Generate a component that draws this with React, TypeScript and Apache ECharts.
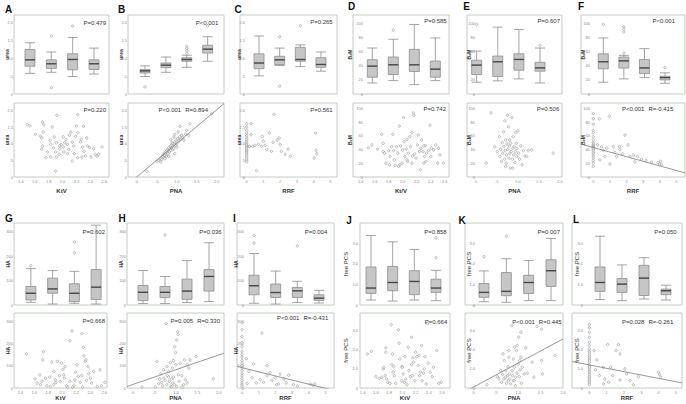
import React, { useEffect, useRef } from "react";
import * as echarts from "echarts";

// ---------- tick values ----------
const ktvTicks = [1.4, 1.6, 1.8, 2.0, 2.2, 2.4, 2.6];
const pnaTicks = [0, 0.5, 1.0, 1.5, 2.0];
const rrfTicks = [0, 1, 2, 3, 4, 5];
const ureaTicks = [0, 0.5, 1.0, 1.5, 2.0];
const b2mTicks = [0, 20, 40, 60, 80, 100];
const haTicks = [0, 100, 200, 300];
const pcsTicks = [0, 1, 2, 3];

// ---------- texts ----------
const panelLetters = ["A", "B", "C", "D", "E", "F", "G", "H", "I", "J", "K", "L"];
const yNames = ["urea", "urea", "urea", "B\u2082M", "B\u2082M", "B\u2082M", "HA", "HA", "HA", "free PCS", "free PCS", "free PCS"];
const xNames = ["KtV", "PNA", "RRF", "Kt/V", "PNA", "RRF", "KtV", "PNA", "RRF", "KtV", "PNA", "RRF"];
const boxP = ["P=0.479", "P<0.001", "P=0.265", "P=0.585", "P=0.607", "P<0.001", "P=0.602", "P=0.036", "P=0.004", "P=0.858", "P=0.007", "P=0.050"];
const scatterP = ["P=0.220", "P<0.001", "P=0.561", "P=0.742", "P=0.506", "P<0.001", "P=0.668", "P=0.005", "P<0.001", "P=0.664", "P<0.001", "P=0.028"];
const scatterR = ["", "R=0.894", "", "", "", "R=-0.415", "", "R=0.330", "R=-0.431", "", "R=0.445", "R=-0.261"];

// ---------- box plots: [min, Q1, median, Q3, max] per quartile group ----------
const ureaKtvBox = [[0.58, 0.78, 0.96, 1.25, 1.44], [0.61, 0.72, 0.85, 0.96, 1.18], [0.49, 0.68, 0.97, 1.13, 1.59], [0.56, 0.69, 0.85, 0.96, 1.29]];
const ureaPnaBox = [[0.49, 0.59, 0.65, 0.69, 0.79], [0.61, 0.74, 0.81, 0.87, 1.04], [0.75, 0.92, 0.97, 1.02, 1.09], [0.92, 1.15, 1.26, 1.37, 1.61]];
const ureaRrfBox = [[0.51, 0.71, 0.87, 1.13, 1.63], [0.8, 0.83, 0.96, 1.06, 1.29], [0.77, 0.92, 0.97, 1.31, 1.38], [0.64, 0.75, 0.83, 1.02, 1.18]];
const b2mKtvBox = [[15.7, 23.8, 39.5, 48.6, 65.2], [19, 27.6, 41.4, 52.4, 77.6], [13.3, 31.9, 41.4, 63.3, 98.6], [19, 23.8, 35.2, 46.7, 79.5]];
const b2mPnaBox = [[16.7, 27.6, 41, 48, 61], [18.6, 24.8, 45.7, 53.8, 94.8], [21.4, 33.8, 49, 57, 91.4], [15.7, 32.4, 37, 45, 65.2]];
const b2mRrfBox = [[16.7, 35.7, 45.7, 57, 79.5], [21.4, 36.7, 47, 52.4, 54.8], [23.3, 29, 37, 49, 64.3], [15.2, 20, 23.3, 25.2, 30]];
const haKtvBox = [[11, 21, 48, 76, 149], [4, 48, 66, 110, 141], [7, 14, 48, 87, 138], [4, 23, 73, 145, 327]];
const haPnaBox = [[6, 18, 52, 80, 141], [6, 30, 52, 76, 117], [10, 23, 57, 106, 182], [14, 57, 117, 145, 255]];
const haRrfBox = [[7, 42, 79, 122, 211], [4, 31, 51, 86, 139], [10, 31, 58, 72, 97], [8, 19, 28, 42, 60]];
const pcsKtvBox = [[0.24, 0.56, 0.82, 1.84, 3.36], [0.19, 0.69, 1.09, 1.87, 3.06], [0.24, 0.5, 1.14, 1.66, 2.69], [0.21, 0.61, 0.82, 1.25, 1.68]];
const pcsPnaBox = [[0.16, 0.37, 0.61, 1.04, 1.65], [0.13, 0.45, 0.66, 1.57, 2.24], [0.21, 0.56, 1.09, 1.44, 2.16], [0.21, 0.9, 1.66, 2.19, 3.22]];
const pcsRrfBox = [[0.26, 0.66, 1.09, 1.84, 3.33], [0.21, 0.61, 1.01, 1.28, 1.94], [0.29, 0.46, 1.3, 1.92, 2.29], [0.24, 0.5, 0.69, 0.77, 0.96]];

// ---------- box plot outliers: [group index, value] ----------
const ureaKtvOut = [[1, 1.63], [1, 0.18], [2, 1.91]];
const ureaPnaOut = [[0, 0.2], [2, 1.34], [2, 1.28], [2, 1.21], [2, 1.14], [3, 1.91]];
const ureaRrfOut = [[1, 1.61], [1, 0.22], [2, 1.92]];
const b2mKtvOut = [[1, 90.5]];
const b2mPnaOut = [[0, 98.6], [3, 69]];
const b2mRrfOut = [[0, 98.6], [1, 95], [1, 92], [1, 88], [1, 58], [3, 37.6]];
const haKtvOut = [[0, 161], [2, 258], [2, 214]];
const haPnaOut = [[1, 287]];
const haRrfOut = [[0, 285], [0, 254], [2, 242]];
const pcsKtvOut = [[3, 3.25], [3, 2.29]];
const pcsPnaOut = [[0, 2.34], [1, 3.33]];
const pcsRrfOut: number[][] = [];

// ---------- scatter points: [x, y] ----------
const ureaKtvPts = [[1.49, 1.57], [1.53, 1.53], [1.71, 1.65], [1.73, 1.57], [1.72, 1.35], [1.61, 1.28], [1.68, 1.23], [1.7, 1.17], [1.71, 0.93], [1.7, 0.83], [1.82, 1.1], [1.83, 0.98], [1.85, 1.5], [1.88, 1.2], [1.91, 1.03], [1.92, 1.85], [1.87, 0.87], [1.9, 0.75], [1.91, 0.6], [1.95, 0.68], [1.96, 0.85], [1.98, 0.97], [2.01, 0.9], [2.02, 0.75], [2.03, 1.03], [2.05, 1.12], [2.07, 0.98], [2.09, 0.83], [2.1, 1.25], [2.12, 1.35], [2.14, 1.05], [2.16, 0.93], [2.17, 0.7], [2.19, 1.22], [2.2, 1.53], [2.22, 1.33], [2.22, 1.87], [2.26, 1.05], [2.27, 1.13], [2.29, 0.9], [2.3, 1.52], [2.31, 0.77], [2.33, 0.63], [2.35, 1.17], [2.36, 0.93], [2.39, 0.88], [2.41, 0.6], [2.45, 0.85], [2.47, 0.68], [2.5, 0.62], [2.52, 0.68], [2.57, 0.9], [1.9, 0.18], [1.78, 0.75], [1.76, 0.58], [2.14, 0.48], [2.22, 0.58], [2.28, 0.6], [1.96, 0.93], [2.07, 0.7], [2.01, 1.2], [1.83, 0.6]];
const ureaPnaPts = [[0.25, 0.17], [0.5, 0.47], [0.55, 0.5], [0.58, 0.55], [0.6, 0.45], [0.62, 0.52], [0.63, 0.6], [0.65, 0.62], [0.66, 0.68], [0.68, 0.58], [0.7, 0.65], [0.7, 0.72], [0.7, 0.55], [0.72, 0.7], [0.73, 0.76], [0.74, 0.62], [0.75, 0.8], [0.76, 0.74], [0.78, 0.7], [0.78, 0.82], [0.8, 0.78], [0.8, 0.88], [0.8, 0.62], [0.82, 0.75], [0.83, 0.85], [0.84, 0.92], [0.85, 0.8], [0.85, 1.12], [0.86, 0.95], [0.88, 0.88], [0.88, 1.02], [0.9, 0.92], [0.9, 1.0], [0.9, 0.82], [0.92, 0.86], [0.93, 1.2], [0.94, 0.98], [0.95, 1.28], [0.95, 1.05], [0.95, 0.7], [0.97, 0.95], [0.98, 1.1], [1.0, 1.0], [1.0, 0.9], [1.02, 1.15], [1.03, 1.35], [1.05, 1.08], [1.07, 1.2], [1.08, 1.52], [1.1, 1.12], [1.12, 1.25], [1.15, 1.18], [1.18, 1.1], [1.22, 1.28], [1.25, 1.4], [1.3, 1.25], [1.33, 1.6], [1.87, 1.9]];
const ureaRrfPts = [[0, 1.6], [0, 1.5], [0, 1.4], [0, 1.32], [0, 1.24], [0, 1.16], [0, 1.1], [0, 1.05], [0, 1.0], [0, 0.96], [0, 0.92], [0, 0.88], [0, 0.84], [0, 0.8], [0, 0.76], [0, 0.72], [0, 0.67], [0, 0.62], [0, 0.56], [0, 0.5], [0, 0.45], [0.26, 1.6], [0.26, 1.27], [0.16, 0.92], [0.36, 0.92], [0.49, 0.95], [0.59, 0.19], [0.7, 0.98], [0.89, 0.92], [0.93, 1.22], [0.99, 1.07], [1.1, 0.95], [1.2, 0.82], [1.35, 1.32], [1.48, 0.77], [1.58, 1.04], [1.63, 1.88], [1.82, 1.11], [1.94, 1.17], [2.0, 0.97], [2.08, 0.77], [2.3, 0.68], [2.48, 0.84], [2.6, 0.62], [4.03, 0.57], [4.12, 1.32], [4.15, 0.8], [4.2, 0.7]];
const b2mKtvPts = [[1.51, 42.9], [1.56, 46.7], [1.64, 40.5], [1.7, 62.2], [1.72, 49.2], [1.72, 37.1], [1.74, 34.7], [1.76, 20.2], [1.8, 38.6], [1.81, 17.8], [1.82, 29.9], [1.84, 44.3], [1.86, 62.2], [1.87, 38.6], [1.88, 25.1], [1.89, 16.9], [1.91, 44.3], [1.93, 34.7], [1.95, 74.2], [1.96, 17.8], [1.97, 45.3], [1.99, 20.2], [2.0, 39.5], [2.01, 86.7], [2.02, 51.6], [2.03, 29.9], [2.05, 41.0], [2.06, 54.9], [2.07, 22.7], [2.08, 34.7], [2.1, 58.8], [2.11, 44.3], [2.13, 65.1], [2.14, 30.8], [2.15, 93.5], [2.16, 90.1], [2.17, 33.7], [2.19, 27.5], [2.21, 46.7], [2.22, 61.2], [2.24, 37.1], [2.25, 10.6], [2.26, 41.9], [2.27, 54.0], [2.29, 37.1], [2.3, 20.2], [2.31, 29.9], [2.32, 45.8], [2.33, 22.7], [2.34, 34.7], [2.37, 38.6], [2.39, 75.7], [2.4, 29.9], [2.41, 41.9], [2.44, 39.5], [2.47, 46.7], [2.5, 20.2], [2.51, 41.9], [2.53, 32.3], [2.58, 20.2], [2.06, 25.1], [2.13, 20.2], [1.94, 15.4], [2.3, 45.3]];
const b2mPnaPts = [[0.25, 20.2], [0.36, 93.5], [0.45, 44.3], [0.51, 37.1], [0.56, 58.8], [0.57, 29.9], [0.59, 40.5], [0.61, 22.7], [0.63, 50.1], [0.64, 34.7], [0.66, 66.0], [0.67, 44.3], [0.68, 26.0], [0.69, 81.9], [0.7, 38.6], [0.71, 54.0], [0.72, 20.2], [0.73, 32.3], [0.74, 48.2], [0.75, 90.1], [0.76, 40.5], [0.78, 73.3], [0.79, 27.5], [0.8, 45.3], [0.81, 34.7], [0.82, 13.0], [0.83, 49.2], [0.84, 37.1], [0.86, 86.7], [0.87, 26.0], [0.88, 41.9], [0.89, 58.8], [0.9, 32.3], [0.91, 44.3], [0.93, 21.2], [0.94, 37.1], [0.95, 64.6], [0.96, 49.2], [0.97, 29.9], [0.98, 41.9], [1.0, 67.5], [1.02, 34.7], [1.04, 26.0], [1.07, 45.3], [1.1, 17.8], [1.13, 38.6], [1.17, 30.8], [1.21, 29.9], [1.25, 38.6], [1.33, 39.5], [1.84, 34.7], [0.88, 13.0], [0.71, 15.4], [0.81, 54.0]];
const b2mRrfPts = [[0, 92.5], [0, 85], [0, 77], [0, 68], [0, 64.6], [0, 58.8], [0, 54], [0, 50], [0, 48], [0, 46], [0, 45], [0, 44], [0, 43], [0, 42], [0, 40.5], [0, 38.6], [0, 35.7], [0, 33.7], [0, 30.8], [0, 27.5], [0, 24], [0, 20.2], [0, 15.4], [0.36, 85], [0.96, 88.7], [1.91, 61.2], [1.57, 44.3], [0.81, 41.9], [1.21, 44.3], [2.09, 46.7], [0.4, 25], [1.0, 19], [2.4, 32], [2.67, 30], [2.9, 26], [3.17, 24], [3.5, 21.7], [3.9, 21], [4.0, 19], [4.1, 17.8], [0.6, 38.6], [1.4, 30], [1.77, 33.7], [2.2, 30], [0.25, 47], [0.5, 44], [1.3, 36], [2.5, 22], [4.05, 23], [0.7, 30], [1.6, 40]];
const haKtvPts = [[1.49, 153], [1.73, 163], [1.72, 126], [1.61, 41], [1.68, 59], [1.71, 30], [1.69, 15], [1.78, 10], [1.82, 49], [1.85, 116], [1.88, 74], [1.9, 37], [1.91, 25], [1.93, 119], [1.96, 55], [1.99, 111], [2.01, 84], [2.02, 59], [2.03, 44], [2.04, 96], [2.06, 10], [2.08, 4], [2.11, 212], [2.14, 256], [2.15, 4], [2.17, 10], [2.19, 70], [2.21, 104], [2.23, 52], [2.26, 25], [2.28, 244], [2.29, 4], [2.3, 182], [2.31, 144], [2.33, 119], [2.34, 126], [2.35, 34], [2.37, 96], [2.38, 64], [2.4, 44], [2.42, 22], [2.45, 74], [2.5, 7], [2.54, 81], [2.61, 25], [2.56, 10], [1.97, 30], [1.83, 7], [1.64, 22], [1.76, 44], [2.11, 30], [2.18, 37], [2.28, 55], [1.88, 15]];
const haPnaPts = [[0.21, 4], [0.56, 119], [0.62, 40], [0.65, 64], [0.67, 25], [0.69, 10], [0.71, 81], [0.72, 44], [0.75, 34], [0.77, 289], [0.79, 15], [0.8, 55], [0.83, 74], [0.84, 30], [0.87, 114], [0.88, 7], [0.9, 40], [0.92, 89], [0.93, 22], [0.94, 123], [0.96, 15], [0.97, 185], [0.99, 159], [1.0, 104], [1.02, 215], [1.04, 252], [1.05, 240], [1.06, 59], [1.07, 30], [1.1, 111], [1.14, 55], [1.18, 15], [1.2, 126], [1.22, 37], [1.26, 104], [1.3, 89], [1.33, 126], [1.47, 141], [1.14, 4], [1.26, 22], [0.94, 49], [0.83, 49], [0.6, 19], [0.52, 4], [0.79, 96], [1.87, 41], [0.9, 4], [1.02, 7]];
const haRrfPts = [[0, 292], [0, 262], [0, 231], [0, 203], [0, 185], [0, 165], [0, 151], [0, 138], [0, 123], [0, 111], [0, 100], [0, 89], [0, 77], [0, 65], [0, 54], [0, 43], [0, 34], [0, 23], [0, 15], [0, 8], [0.26, 131], [0.69, 108], [1.19, 246], [1.49, 100], [1.98, 46], [1.67, 69], [2.28, 62], [2.08, 15], [2.64, 23], [2.79, 57], [1.09, 38], [0.85, 23], [0.6, 46], [1.29, 26], [1.79, 34], [2.18, 18], [3.07, 15], [3.31, 8], [4.1, 18], [4.26, 12], [4.36, 18], [0.4, 75], [1.5, 55], [2.5, 40], [0.3, 20]];
const pcsKtvPts = [[1.47, 1.77], [1.53, 1.91], [1.6, 0.59], [1.65, 0.5], [1.69, 0.56], [1.71, 0.99], [1.72, 1.08], [1.74, 0.64], [1.75, 2.09], [1.75, 1.86], [1.76, 0.47], [1.78, 0.3], [1.81, 0.24], [1.83, 3.29], [1.85, 1.77], [1.86, 0.82], [1.87, 1.11], [1.88, 0.64], [1.9, 0.24], [1.94, 3.03], [1.95, 2.33], [1.96, 1.51], [1.99, 1.11], [2.0, 1.08], [2.01, 0.73], [2.03, 0.3], [2.04, 1.63], [2.05, 0.47], [2.07, 0.17], [2.09, 2.12], [2.1, 0.9], [2.12, 0.59], [2.14, 2.64], [2.15, 0.64], [2.16, 1.57], [2.17, 1.34], [2.19, 0.38], [2.2, 1.86], [2.22, 1.63], [2.24, 1.17], [2.25, 1.69], [2.26, 0.64], [2.27, 0.82], [2.29, 2.21], [2.3, 0.38], [2.32, 0.77], [2.33, 0.99], [2.34, 1.63], [2.36, 0.21], [2.38, 3.34], [2.39, 1.29], [2.42, 0.82], [2.45, 0.59], [2.47, 1.08], [2.52, 1.95], [2.55, 0.24], [2.59, 0.3], [1.84, 1.22], [2.14, 1.22], [1.99, 0.38]];
const pcsPnaPts = [[0.3, 0.17], [0.53, 0.59], [0.57, 0.47], [0.61, 0.9], [0.63, 0.3], [0.65, 0.7], [0.66, 1.77], [0.68, 0.47], [0.69, 1.43], [0.71, 0.56], [0.72, 0.9], [0.74, 0.24], [0.76, 0.64], [0.77, 1.11], [0.78, 0.38], [0.79, 1.6], [0.8, 0.73], [0.81, 0.47], [0.83, 0.21], [0.85, 3.25], [0.86, 0.9], [0.87, 0.64], [0.89, 0.38], [0.89, 1.51], [0.91, 1.08], [0.92, 2.12], [0.94, 0.56], [0.94, 0.12], [0.96, 1.95], [0.97, 0.77], [0.98, 2.21], [1.0, 1.25], [1.01, 2.64], [1.02, 0.59], [1.03, 1.43], [1.04, 0.94], [1.06, 2.9], [1.07, 0.24], [1.09, 1.08], [1.13, 0.73], [1.17, 2.09], [1.2, 0.77], [1.31, 1.34], [1.35, 0.56], [1.42, 3.2], [1.52, 3.05], [1.54, 0.73], [1.52, 1.43], [1.82, 1.69], [1.06, 1.6], [0.79, 1.95], [0.91, 0.38]];
const pcsRrfPts = [[0, 3.3], [0, 3.13], [0, 2.9], [0, 2.64], [0, 2.38], [0, 2.21], [0, 2.03], [0, 1.91], [0, 1.81], [0, 1.69], [0, 1.6], [0, 1.51], [0, 1.43], [0, 1.34], [0, 1.22], [0, 1.11], [0, 1.04], [0, 0.94], [0, 0.87], [0, 0.77], [0, 0.7], [0, 0.59], [0, 0.52], [0, 0.42], [0, 0.35], [0, 0.26], [0, 0.17], [0.27, 1.95], [0.43, 1.46], [0.58, 0.64], [0.81, 1.08], [0.9, 0.47], [1.06, 2.26], [1.23, 1.08], [1.35, 0.64], [1.54, 1.95], [1.68, 2.26], [1.77, 1.77], [2.06, 0.99], [2.15, 0.73], [2.35, 0.38], [2.54, 0.17], [2.83, 0.59], [3.99, 0.82], [4.05, 0.7], [4.13, 0.56], [0.81, 0.21], [1.77, 0.42], [0.35, 0.95], [1.1, 0.3]];

// ---------- regression lines: [intercept, slope] (null = none drawn) ----------
const regressions: (number[] | null)[] = [null, [0.0, 1.01], null, null, null, [43, -6.7], null, [16, 66], [91, -18.5], null, [0.05, 1.25], [1.2, -0.175]];

// ---------- per-panel data wiring ----------
const panelBoxes = [ureaKtvBox, ureaPnaBox, ureaRrfBox, b2mKtvBox, b2mPnaBox, b2mRrfBox, haKtvBox, haPnaBox, haRrfBox, pcsKtvBox, pcsPnaBox, pcsRrfBox];
const panelOutliers = [ureaKtvOut, ureaPnaOut, ureaRrfOut, b2mKtvOut, b2mPnaOut, b2mRrfOut, haKtvOut, haPnaOut, haRrfOut, pcsKtvOut, pcsPnaOut, pcsRrfOut];
const panelPoints = [ureaKtvPts, ureaPnaPts, ureaRrfPts, b2mKtvPts, b2mPnaPts, b2mRrfPts, haKtvPts, haPnaPts, haRrfPts, pcsKtvPts, pcsPnaPts, pcsRrfPts];
const yTickSets = [ureaTicks, b2mTicks, haTicks, pcsTicks];
const yDecimals = [1, 0, 0, 1];
const yBoxMax = [2.22, 112, 336, 3.97];
const yScatterMax = [2.22, 108, 336, 3.9];
const xTickSets = [ktvTicks, pnaTicks, rrfTicks];
const xDecimals = [1, 1, 0];
const xRanges = [[1.3, 2.67], [-0.22, 2.18], [-0.4, 5.4], [1.29, 2.66], [-0.21, 2.05], [-0.74, 5.52], [1.31, 2.64], [-0.14, 2.12], [-0.3, 5.5], [1.36, 2.72], [-0.19, 2.0], [-1.0, 5.35]];

// ---------- layout (pixels) ----------
const frameLeft = [14, 128, 240, 353, 467, 581, 14, 127, 237, 360, 465, 572];
const frameWidth = [95, 96, 97, 96, 95, 104, 93, 97, 97, 90, 98, 110];
const boxGridLeft = [19.3, 134.6, 248.7, 361.8, 466.1, 593, 20, 132, 243.2, 360.2, 472.8, 589];
const boxGridRight = [104.7, 218.1, 331.3, 445.8, 550.6, 675.3, 107, 220, 329.8, 446.8, 562.2, 677];
const rowBoxTop = [15, 223];
const rowBoxHeight = [79, 82];
const rowScatterTop = [103, 313];
const rowScatterHeight = [74, 75];
const labelRight = [13, 127, 245, 363, 475, 590, 13, 126, 244, 358, 475, 583];
const nameX = [7.3, 121, 239, 350, 468.5, 582.5, 8, 120.7, 236, 346, 469, 576.7];
const letterX = [8.7, 121.5, 238, 351.5, 466.5, 581, 9, 122, 234.5, 349, 462, 576];
const letterY = [9.7, 9.7, 9.3, 6.3, 6.3, 6.3, 218.3, 218.3, 218.3, 220.5, 220, 219];
const boxPRight = [106, 218.3, 332.7, 446.7, 560, 675, 105, 221.7, 327.3, 446.7, 560, 676.7];
const boxPY = [22.7, 22.7, 22, 20.7, 20.7, 20.7, 231.7, 231.7, 231.7, 231.7, 231.7, 231.7];
const scPRight = [106, 208, 332.7, 446, 559.3, 673.3, 105, 220, 328.3, 447.3, 561.7, 673.3];
const scPY = [110, 110, 110, 109, 109, 109, 320.7, 320.7, 318.3, 321.7, 321.7, 321.7];
const rowXNameY = [190.7, 398];

const FONT = '"Liberation Sans", Arial, Helvetica, sans-serif';
const FRAME = "#c4ccc0";
const P_SIZE = 6;

function fmt(v: number, dec: number): string {
  if (v === 0) return "0";
  const s = v.toFixed(dec);
  return s.indexOf("0.") === 0 ? s.slice(1) : s;
}

function measure(text: string, size: number): number {
  const ctx = document.createElement("canvas").getContext("2d");
  if (!ctx) return text.length * size * 0.55;
  ctx.font = `${size}px "Liberation Sans", Arial, sans-serif`;
  return ctx.measureText(text).width;
}

function buildOption() {
  const grid: any[] = [];
  const xAxis: any[] = [];
  const yAxis: any[] = [];
  const series: any[] = [];
  const graphic: any[] = [];
  const tickLabel = { fontSize: 4, color: "#8a8a8a", fontFamily: FONT };
  const pointStyle = { color: "#ffffff", borderColor: "#888888", borderWidth: 0.7 };

  for (let i = 0; i < 12; i++) {
    const r = i < 6 ? 0 : 1;
    const v = Math.floor(i / 3);
    const c = i % 3;
    const bT = rowBoxTop[r], bH = rowBoxHeight[r];
    const sT = rowScatterTop[r], sH = rowScatterHeight[r];
    const fL = frameLeft[i], fW = frameWidth[i];
    const bi = 2 * i, si = 2 * i + 1;
    const yDec = yDecimals[v];
    const xDec = xDecimals[c];
    const [xmin, xmax] = xRanges[i];

    grid.push({ left: boxGridLeft[i], top: bT, width: boxGridRight[i] - boxGridLeft[i], height: bH, show: false });
    grid.push({ left: fL, top: sT, width: fW, height: sH, show: true, borderColor: FRAME, borderWidth: 1, backgroundColor: "transparent" });

    xAxis.push({
      type: "category", gridIndex: bi, data: ["1", "2", "3", "4"],
      axisLine: { show: false }, axisTick: { show: false }, axisLabel: { show: false }, splitLine: { show: false },
    });
    xAxis.push({
      type: "value", gridIndex: si, min: xmin, max: xmax,
      axisLine: { show: false }, axisTick: { show: false }, splitLine: { show: false },
      axisLabel: { ...tickLabel, margin: 2, customValues: xTickSets[c], formatter: (val: number) => fmt(val, xDec) },
    });
    yAxis.push({
      type: "value", gridIndex: bi, min: 0, max: yBoxMax[v], offset: boxGridLeft[i] - labelRight[i] - 1,
      axisLine: { show: false }, axisTick: { show: false }, splitLine: { show: false },
      axisLabel: { ...tickLabel, margin: 1, customValues: yTickSets[v], formatter: (val: number) => fmt(val, yDec) },
    });
    yAxis.push({
      type: "value", gridIndex: si, min: 0, max: yScatterMax[v], offset: fL - labelRight[i] - 1,
      axisLine: { show: false }, axisTick: { show: false }, splitLine: { show: false },
      axisLabel: { ...tickLabel, margin: 1, customValues: yTickSets[v], formatter: (val: number) => fmt(val, yDec) },
    });

    const box = panelBoxes[i];
    series.push({
      type: "boxplot", xAxisIndex: bi, yAxisIndex: bi, data: box, boxWidth: [10, 10], silent: true,
      itemStyle: { color: "#c6c6c6", borderColor: "#8e8e8e", borderWidth: 0.8 },
    });
    series.push({
      type: "scatter", xAxisIndex: bi, yAxisIndex: bi, silent: true, z: 5,
      data: box.map((b, k) => [k, b[2]]), symbol: "rect", symbolSize: [10, 1.4],
      itemStyle: { color: "#333333" },
    });
    if (panelOutliers[i].length) {
      series.push({
        type: "scatter", xAxisIndex: bi, yAxisIndex: bi, silent: true,
        data: panelOutliers[i], symbol: "circle", symbolSize: 2.4,
        itemStyle: pointStyle,
      });
    }
    series.push({
      type: "scatter", xAxisIndex: si, yAxisIndex: si, silent: true,
      data: panelPoints[i], symbol: "circle", symbolSize: 2.4,
      itemStyle: pointStyle,
    });
    const reg = regressions[i];
    if (reg) {
      series.push({
        type: "line", xAxisIndex: si, yAxisIndex: si, silent: true, clip: true,
        data: [[xmin, reg[0] + reg[1] * xmin], [xmax, reg[0] + reg[1] * xmax]],
        symbol: "none", showSymbol: false,
        lineStyle: { color: "#7f7f7f", width: 0.8 },
      });
    }

    // frame of the box-plot panel
    graphic.push({
      type: "rect", silent: true,
      shape: { x: fL, y: bT, width: fW, height: bH },
      style: { fill: "none", stroke: FRAME, lineWidth: 1 },
    });
    // panel letter
    graphic.push({
      type: "text", x: letterX[i], y: letterY[i], silent: true,
      style: { text: panelLetters[i], fontSize: 10, fontWeight: "bold", fontFamily: FONT, fill: "#111", align: "center", verticalAlign: "middle" },
    });
    // P value texts
    const pStyle = { fontSize: P_SIZE, fontFamily: FONT, fill: "#333", verticalAlign: "middle" };
    graphic.push({
      type: "text", x: boxPRight[i], y: boxPY[i], silent: true,
      style: { ...pStyle, text: boxP[i], align: "right" },
    });
    if (scatterR[i]) {
      const rW = measure(scatterR[i], P_SIZE);
      graphic.push({
        type: "text", x: scPRight[i], y: scPY[i], silent: true,
        style: { ...pStyle, text: scatterR[i], align: "right" },
      });
      graphic.push({
        type: "text", x: scPRight[i] - rW - 4, y: scPY[i], silent: true,
        style: { ...pStyle, text: scatterP[i], align: "right" },
      });
    } else {
      graphic.push({
        type: "text", x: scPRight[i], y: scPY[i], silent: true,
        style: { ...pStyle, text: scatterP[i], align: "right" },
      });
    }
    // y names (rotated)
    const isPcs = v === 3;
    const yNameStyle = {
      text: yNames[i], fontSize: isPcs ? 6 : 5, fontWeight: isPcs ? "normal" : "bold",
      fontFamily: FONT, fill: "#333", align: "center", verticalAlign: "middle",
    };
    graphic.push({ type: "text", x: nameX[i], y: bT + bH / 2, rotation: Math.PI / 2, silent: true, style: { ...yNameStyle } });
    graphic.push({ type: "text", x: nameX[i], y: sT + sH / 2, rotation: Math.PI / 2, silent: true, style: { ...yNameStyle } });
    // x name
    graphic.push({
      type: "text", x: fL + fW / 2, y: rowXNameY[r], silent: true,
      style: { text: xNames[i], fontSize: 6, fontWeight: "bold", fontFamily: FONT, fill: "#333", align: "center", verticalAlign: "middle" },
    });
  }

  return {
    animation: false,
    backgroundColor: "#ffffff",
    textStyle: { fontFamily: FONT },
    grid, xAxis, yAxis, series, graphic,
  };
}

export default function App() {
  const ref = useRef<HTMLDivElement>(null);
  useEffect(() => {
    if (!ref.current) return;
    const chart = echarts.init(ref.current, undefined, { renderer: "svg" });
    chart.setOption(buildOption() as any);
    return () => chart.dispose();
  }, []);
  return (
    <div
      ref={ref}
      style={{ position: "fixed", left: 0, top: 0, width: 686, height: 404, background: "#fff" }}
    />
  );
}
